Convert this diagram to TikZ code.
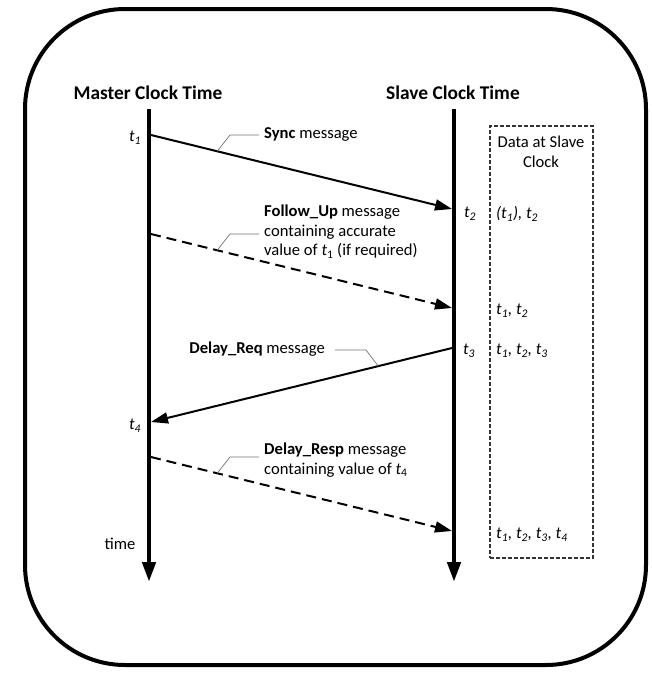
\documentclass[tikz,border=0pt]{standalone}
\usepackage{fontspec}
\setmainfont{Carlito}
\usetikzlibrary{arrows.meta,calc}
\begin{document}
\begin{tikzpicture}[x=1pt,y=-1pt,
  axis/.style={line width=4.5pt,-{Triangle[length=20pt,width=13pt]}},
  msg/.style={line width=2pt,-{Triangle[length=17pt,width=11pt]}},
  dmsg/.style={msg,dash pattern=on 10pt off 6pt},
  callout/.style={draw=black!55,line width=0.7pt},
  lbl/.style={font=\fontsize{16.6}{19.5}\selectfont,inner sep=0pt,align=left},
  ttl/.style={font=\fontsize{19.4}{22}\selectfont\bfseries,inner sep=0pt},
  tlab/.style={font=\fontsize{16.6}{19.5}\selectfont\itshape,inner sep=0pt},
  databox/.style={draw=black!80,line width=1.1pt,dash pattern=on 4pt off 2pt,inner sep=0pt}]
\useasboundingbox (0,0) rectangle (652,673);
% outer frame
\draw[line width=4pt,rounded corners=100pt] (25,9) rectangle (646,665);
% titles
\node[ttl] (mt) at (148,93) {Master Clock Time};
\node[ttl] (st) at (453,93) {Slave Clock Time};
% axis coordinates
\coordinate (mtop) at (149,109);
\coordinate (mbot) at (149,582);
\coordinate (stop) at (454,109);
\coordinate (sbot) at (454,582);
% message end points
\coordinate (a1) at (151,135);
\coordinate (b1) at (452,209);
\coordinate (a2) at (151,234);
\coordinate (b2) at (452,308);
\coordinate (b3) at (452,348);
\coordinate (a3) at (151,422);
\coordinate (a4) at (151,457);
\coordinate (b4) at (452,531);
% messages
\draw[msg] (a1) -- (b1);
\draw[dmsg] (a2) -- (b2);
\draw[msg] (b3) -- (a3);
\draw[dmsg] (a4) -- (b4);
% axes
\draw[axis] (mtop) -- (mbot);
\draw[axis] (stop) -- (sbot);
% time labels
\node[tlab] (t1) at (135,138) {t\textsubscript{1}};
\node[tlab] (t2) at (470,214) {t\textsubscript{2}};
\node[tlab] (t3) at (469,351) {t\textsubscript{3}};
\node[tlab] (t4) at (135,426) {t\textsubscript{4}};
\node[lbl] (time) at (120,544) {time};
% message labels
\node[lbl,anchor=west] (syncl) at (264,134) {\textbf{Sync} message};
\node[lbl,anchor=west] (ful) at (264,232) {\textbf{Follow\_Up} message\\containing accurate\\value of \textit{t}\textsubscript{1} (if required)};
\node[lbl,anchor=east] (drl) at (325,349) {\textbf{Delay\_Req} message};
\node[lbl,anchor=west] (dresl) at (264,460) {\textbf{Delay\_Resp} message\\containing value of \textit{t}\textsubscript{4}};
% callouts
\coordinate (c1) at ($(a1)!0.22!(b1)$);
\coordinate (c2) at ($(a2)!0.22!(b2)$);
\coordinate (c3) at ($(b3)!0.245!(a3)$);
\coordinate (c4) at ($(a4)!0.22!(b4)$);
\draw[callout] (c1) -- (230,135) -- ([xshift=-5pt]syncl.west |- 0,135);
\draw[callout] (c2) -- (230,234) -- ([xshift=-5pt]ful.west |- 0,234);
\draw[callout] ([xshift=10pt]drl.east |- 0,350) -- (366,350) -- (c3);
\draw[callout] (c4) -- (230,457) -- ([xshift=-5pt]dresl.west |- 0,457);
% data box
\node[databox,minimum width=103pt,minimum height=432pt] (box) at (541.5,342) {};
\node[lbl,align=center] (dtitle) at (541,152) {Data at Slave\\Clock};
\node[tlab,anchor=west] (d1) at (496,214) {(t\textsubscript{1}), t\textsubscript{2}};
\node[tlab,anchor=west] (d2) at (496,311) {t\textsubscript{1}, t\textsubscript{2}};
\node[tlab,anchor=west] (d3) at (496,351) {t\textsubscript{1}, t\textsubscript{2}, t\textsubscript{3}};
\node[tlab,anchor=west] (d4) at (496,535) {t\textsubscript{1}, t\textsubscript{2}, t\textsubscript{3}, t\textsubscript{4}};
\end{tikzpicture}
\end{document}
